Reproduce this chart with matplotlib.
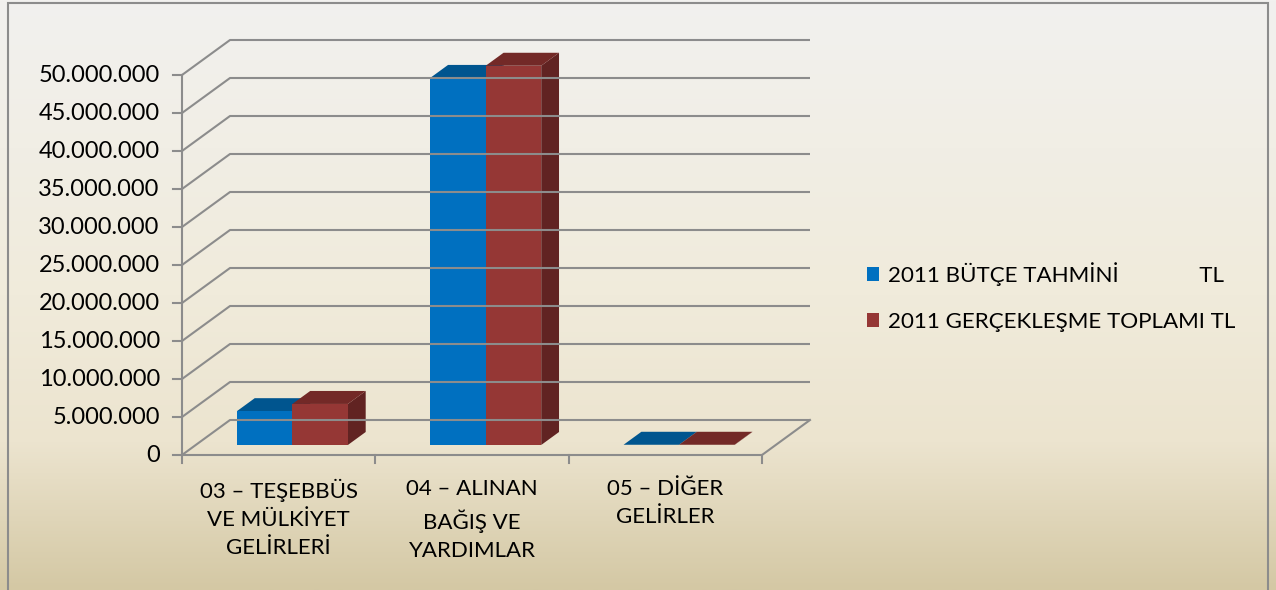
import numpy as np
import matplotlib.pyplot as plt
from matplotlib.patches import Polygon, Rectangle, Patch
from matplotlib.colors import LinearSegmentedColormap

plt.rcParams['font.family'] = ['Lato', 'DejaVu Sans']

# veriler
kategoriler = ['03 – TEŞEBBÜS\nVE MÜLKİYET\nGELİRLERİ',
               '04 – ALINAN\nBAĞIŞ VE\nYARDIMLAR',
               '05 – DİĞER\nGELİRLER']
butce_tahmini = [4450000, 48300000, 30000]
gerceklesme = [5400000, 49900000, 30000]
seriler = ['2011 BÜTÇE TAHMİNİ              TL', '2011 GERÇEKLEŞME TOPLAMI TL']
y_ticks = np.arange(0, 50000001, 5000000)

# 3B görünüm için renkler (ön, üst, yan)
renkler = [('#0070C0', '#00558F', '#004C80'),
           ('#953735', '#732927', '#612322')]

W, H = 1276, 590
fig = plt.figure(figsize=(W / 100, H / 100), dpi=100)

# arka plan degrade
bg = fig.add_axes([0, 0, 1, 1])
cmap = LinearSegmentedColormap.from_list('bg', [
    (0.0, (242/255, 241/255, 239/255)),
    (0.5, (240/255, 235/255, 219/255)),
    (0.75, (236/255, 228/255, 207/255)),
    (1.0, (212/255, 200/255, 164/255))])
bg.imshow(np.linspace(0, 1, 256).reshape(-1, 1), aspect='auto', cmap=cmap,
          extent=[0, 1, 0, 1], origin='upper')
bg.set_xlim(0, 1)
bg.set_ylim(0, 1)
bg.axis('off')
bg.add_patch(Rectangle((8 / W, -0.01), 1260 / W, 1 - 3 / H + 0.01, fill=False,
                       edgecolor='#8C8C8C', lw=1.5))

# grafik alani (on duzlem)
x0, x1, y0, y1 = 182, 810, 455, 40
ax = fig.add_axes([x0 / W, 1 - y0 / H, (x1 - x0) / W, (y0 - y1) / H])
ax.patch.set_alpha(0)
ax.axis('off')

n = len(kategoriler)
DX = 48 / 193.3            # derinlik kaymasi (kategori birimi)
DY = 35 / 7.6 * 1e6        # derinlik kaymasi (deger birimi)
ax.set_xlim(0, n + DX)
ax.set_ylim(0, y_ticks[-1] + DY)

gc = '#8C8C8C'
lw = 1.5
for v in y_ticks:
    ax.plot([0, DX, n + DX], [v, v + DY, v + DY], color=gc, lw=lw,
            clip_on=False, solid_capstyle='butt')
    ax.plot([-0.045, 0], [v, v], color=gc, lw=lw, clip_on=False)
    ax.text(-0.115, v, f'{v:,}'.replace(',', '.'), ha='right', va='center',
            fontsize=17, color='black')
# taban
ax.plot([0, n, n + DX], [0, 0, DY], color=gc, lw=lw, clip_on=False)
ax.plot([0, 0], [0, y_ticks[-1]], color=gc, lw=lw, clip_on=False)
for i in range(n + 1):
    ax.plot([i, i], [0, -1.0e6], color=gc, lw=lw, clip_on=False)

for i, lab in enumerate(kategoriler):
    ax.text(i + 0.5, -3.2e6, lab, ha='center', va='top', fontsize=16,
            linespacing=1.5)

# 3B cubuklar
f0, fd = 0.286, 0.371
w = 0.287
for s, vals in enumerate([butce_tahmini, gerceklesme]):
    front, top, side = renkler[s]
    for i, v in enumerate(vals):
        xl = i + 0.5 - w + s * w + f0 * DX
        xr = xl + w
        yb = f0 * DY
        yt = yb + v
        ddx, ddy = fd * DX, fd * DY
        ax.add_patch(Polygon([(xr, yb), (xr + ddx, yb + ddy), (xr + ddx, yt + ddy), (xr, yt)],
                             closed=True, facecolor=side, edgecolor='none', clip_on=False))
        ax.add_patch(Polygon([(xl, yt), (xr, yt), (xr + ddx, yt + ddy), (xl + ddx, yt + ddy)],
                             closed=True, facecolor=top, edgecolor='none', clip_on=False))
        ax.add_patch(Rectangle((xl, yb), w, v, facecolor=front, edgecolor='none',
                               clip_on=False))

handles = [Patch(facecolor=renkler[k][0]) for k in range(2)]
fig.legend(handles, seriler, loc='center left', bbox_to_anchor=(858 / W, 1 - 297 / H),
           frameon=False, fontsize=16.1, handlelength=0.55, handleheight=0.55,
           handletextpad=0.4, labelspacing=1.15, borderaxespad=0)

fig.savefig('out.png', dpi=100)
